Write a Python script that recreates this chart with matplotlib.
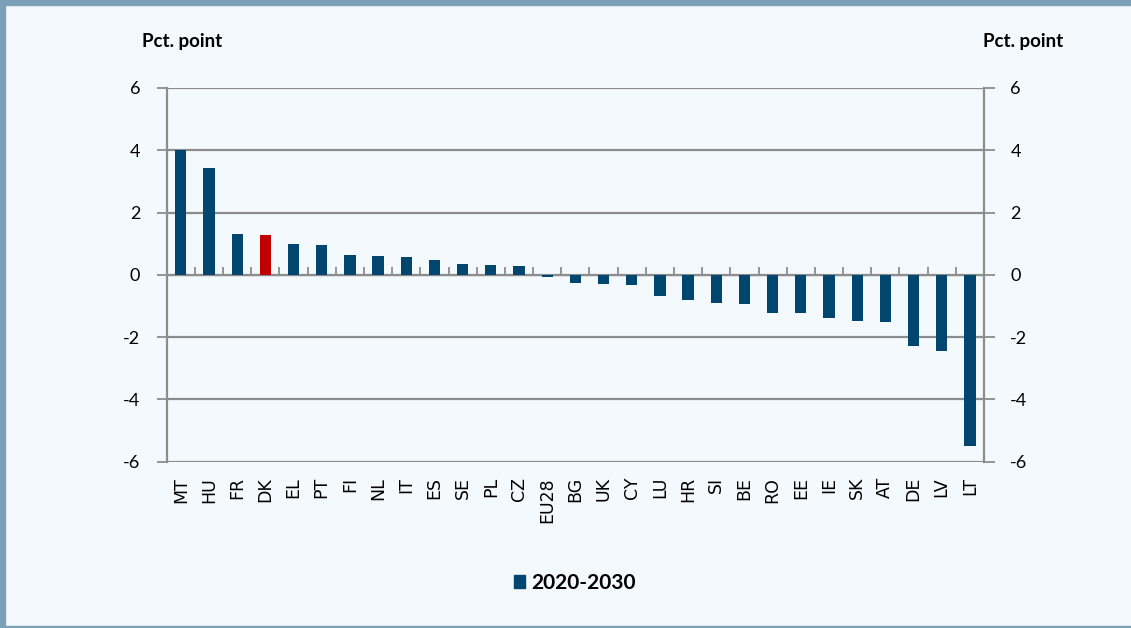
import numpy as np
import matplotlib.pyplot as plt
from matplotlib.patches import Rectangle

# Data
countries = ['MT', 'HU', 'FR', 'DK', 'EL', 'PT', 'FI', 'NL', 'IT', 'ES', 'SE', 'PL', 'CZ',
             'EU28', 'BG', 'UK', 'CY', 'LU', 'HR', 'SI', 'BE', 'RO', 'EE', 'IE', 'SK',
             'AT', 'DE', 'LV', 'LT']
change = [4.02, 3.42, 1.30, 1.28, 1.00, 0.96, 0.63, 0.59, 0.58, 0.47, 0.34, 0.30, 0.29,
          -0.08, -0.27, -0.30, -0.32, -0.67, -0.80, -0.89, -0.93, -1.24, -1.24, -1.40,
          -1.48, -1.52, -2.29, -2.45, -5.51]
highlight = 'DK'
series_name = '2020-2030'
yticks = [-6, -4, -2, 0, 2, 4, 6]

bg = '#F4F9FD'
blue = '#00466E'
red = '#C00000'
grey = '#8C8C8C'
frame = '#7BA0B8'

fig = plt.figure(figsize=(11.31, 6.28), dpi=100, facecolor=bg)
# border strips like the cropped box
fig.patches.append(Rectangle((0, 1 - 5/628), 1, 5/628, transform=fig.transFigure,
                             color=frame, zorder=0))
fig.patches.append(Rectangle((0, 0), 5/1131, 1, transform=fig.transFigure,
                             color=frame, zorder=0))
fig.patches.append(Rectangle((0, 0), 1, 2/628, transform=fig.transFigure,
                             color=frame, zorder=0))

ax = fig.add_axes([0.1474, 0.2648, 0.7226, 0.5952])
ax.set_facecolor(bg)

x = np.arange(len(countries))
colors = [red if c == highlight else blue for c in countries]
ax.bar(x, change, width=0.4, color=colors, zorder=3, label=series_name)

ax.set_xlim(-0.5, len(countries) - 0.5)
ax.set_ylim(-6, 6)
ax.set_yticks(yticks)
ax.set_yticklabels([str(t) for t in yticks], fontsize=13, family='Lato')
ax.tick_params(axis='y', direction='out', length=7, width=1.3, color=grey, pad=12)
for t in yticks:
    ax.axhline(t, color=grey, lw=1.6, zorder=1)

ax.set_xticks(x)
ax.set_xticklabels(countries, rotation=90, fontsize=12.5, family='DejaVu Sans')
ax.tick_params(axis='x', length=0, pad=11)

for s in ['left', 'right']:
    ax.spines[s].set_color(grey)
    ax.spines[s].set_linewidth(1.6)
for s in ['top', 'bottom']:
    ax.spines[s].set_visible(False)

# tick marks at category boundaries on the zero line
zax = ax.secondary_xaxis(0.5)
zax.set_xticks(np.arange(len(countries) + 1) - 0.5)
zax.set_xticklabels([])
zax.tick_params(direction='out', length=6, width=1.3, color=grey)
zax.spines['bottom'].set_visible(False)

# right axis
ax2 = ax.twinx()
ax2.set_ylim(-6, 6)
ax2.set_yticks(yticks)
ax2.set_yticklabels([str(t) for t in yticks], fontsize=13, family='Lato')
ax2.tick_params(axis='y', direction='out', length=8, width=1.3, color=grey, pad=11)
for s in ['left', 'right', 'top', 'bottom']:
    ax2.spines[s].set_visible(False)

fig.text(142/1131, 1 - 42/628, 'Pct. point', fontsize=13.5, fontweight='bold',
         family='Lato', va='center', ha='left')
fig.text(1063/1131, 1 - 42/628, 'Pct. point', fontsize=13.5, fontweight='bold',
         family='Lato', va='center', ha='right')

leg = fig.legend(*ax.get_legend_handles_labels(), loc='center', bbox_to_anchor=(575/1131, 1 - 583/628),
                 frameon=False, handlelength=0.55, handleheight=0.55, handletextpad=0.3,
                 prop={'family': 'Lato', 'weight': 'bold', 'size': 15})
leg.legend_handles[0].set_color(blue)

fig.savefig('out.png', dpi=100, facecolor=bg)
